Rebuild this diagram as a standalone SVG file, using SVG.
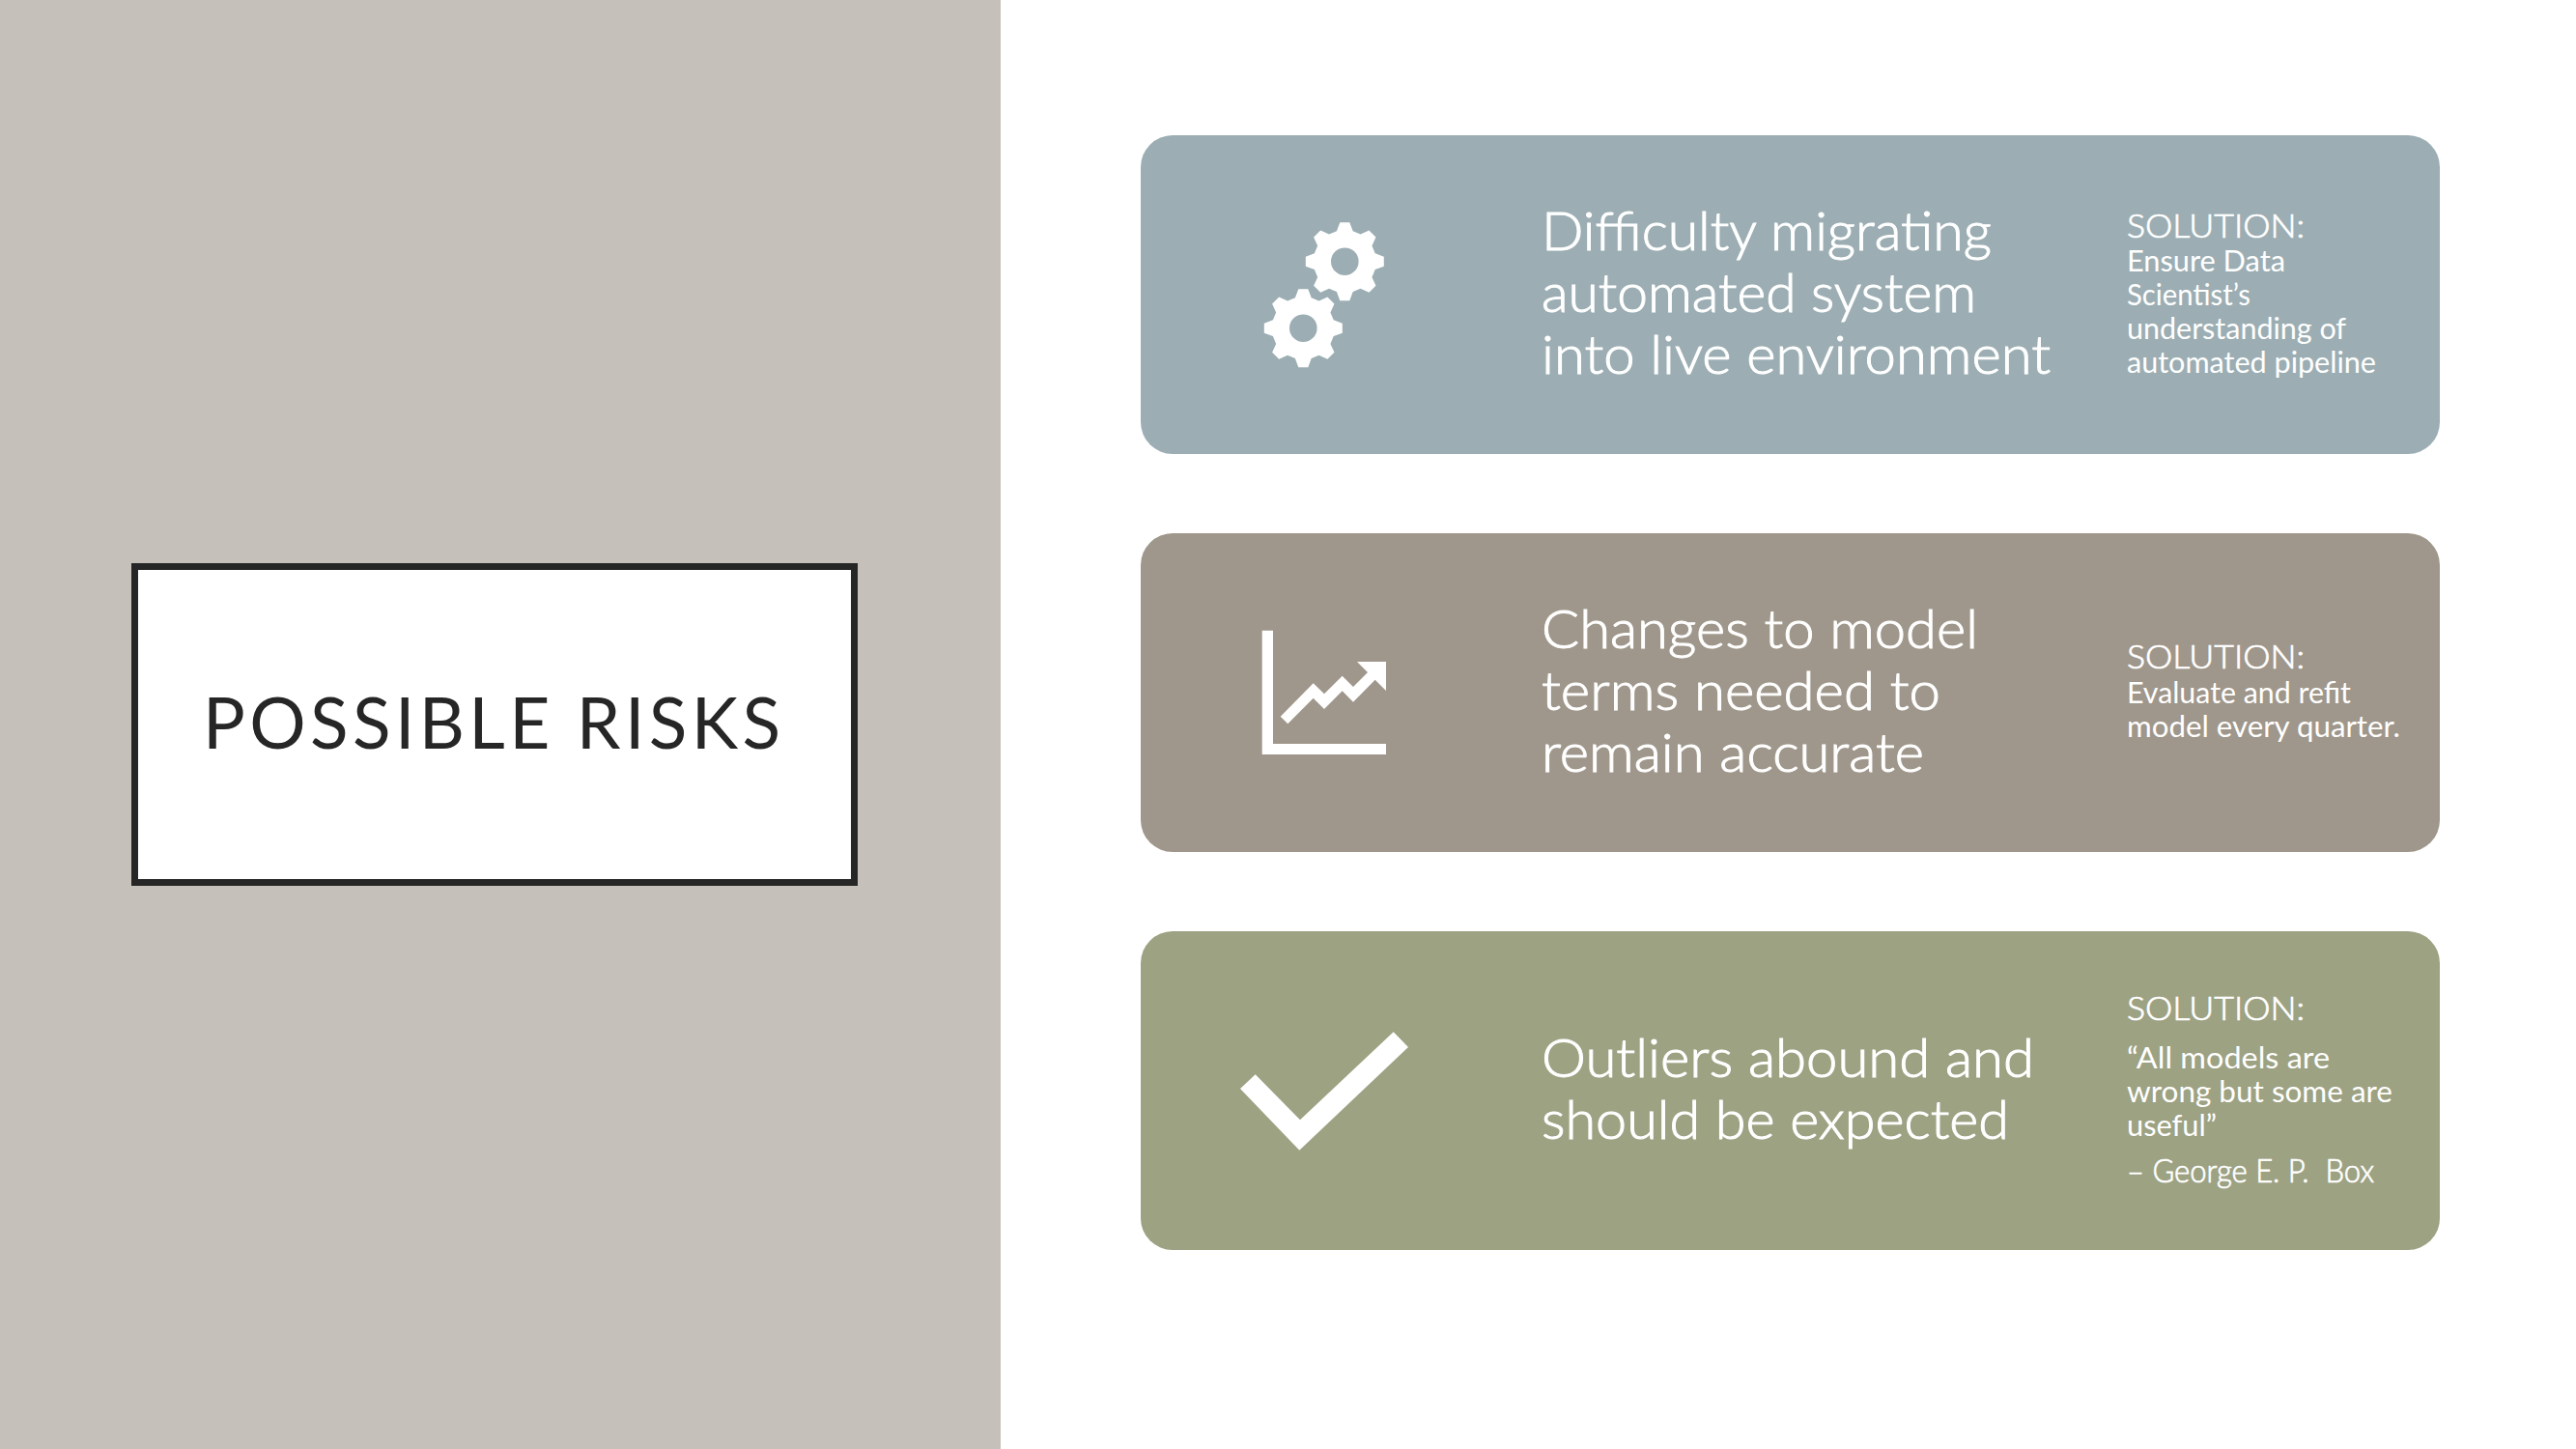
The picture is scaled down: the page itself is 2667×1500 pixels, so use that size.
<svg xmlns="http://www.w3.org/2000/svg" width="2667" height="1500" viewBox="0 0 2667 1500">
<style>
text{font-family:"Lato","Open Sans","Liberation Sans",sans-serif}
.m{font-size:56px;fill:#fff;font-weight:300;stroke:#fff;stroke-width:1px}
.s{font-size:30px;fill:#fff}
.h{font-size:33px;fill:#fff;font-weight:300;stroke:#fff;stroke-width:.7px}
.i{fill:#fff}
</style>
<defs>
<path id="gear" fill-rule="evenodd" d="M-8.4-31.4L-5-40.5L5-40.5L8.4-31.4L16.26-28.14L25.1-32.17L32.17-25.1L28.14-16.26L31.4-8.4L40.5-5L40.5 5L31.4 8.4L28.14 16.26L32.17 25.1L25.1 32.17L16.26 28.14L8.4 31.4L5 40.5L-5 40.5L-8.4 31.4L-16.26 28.14L-25.1 32.17L-32.17 25.1L-28.14 16.26L-31.4 8.4L-40.5 5L-40.5-5L-31.4-8.4L-28.14-16.26L-32.17-25.1L-25.1-32.17L-16.26-28.14ZM14.3 0A14.3 14.3 0 1 0-14.3 0A14.3 14.3 0 1 0 14.3 0Z"/>
</defs>
<rect width="2667" height="1500" fill="#fff"/>
<rect id="panel" width="1036" height="1500" fill="#C5C0BA"/>
<g id="title">
<rect x="139.5" y="586.5" width="745" height="327" fill="#fff" stroke="#262626" stroke-width="7"/>
<text x="210" y="775" font-size="73" fill="#262626" textLength="598" lengthAdjust="spacing">POSSIBLE RISKS</text>
</g>
<g id="card1">
<rect x="1181" y="140" width="1345" height="330" rx="33" fill="#9CAEB3"/>
<use href="#gear" class="i" x="1392.3" y="270.7"/>
<use href="#gear" class="i" x="1349.3" y="339.7"/>
<text class="m" x="1596" y="259" textLength="466" lengthAdjust="spacingAndGlyphs">Difficulty migrating</text>
<text class="m" x="1596" y="323" textLength="450" lengthAdjust="spacingAndGlyphs">automated system</text>
<text class="m" x="1596" y="387" textLength="527" lengthAdjust="spacingAndGlyphs">into live environment</text>
<text class="h" x="2202" y="246" textLength="184" lengthAdjust="spacingAndGlyphs">SOLUTION:</text>
<text class="s" x="2202" y="281" textLength="164" lengthAdjust="spacingAndGlyphs">Ensure Data</text>
<text class="s" x="2202" y="316" textLength="128" lengthAdjust="spacingAndGlyphs">Scientist’s</text>
<text class="s" x="2202" y="351" textLength="227" lengthAdjust="spacingAndGlyphs">understanding of</text>
<text class="s" x="2202" y="386" textLength="258" lengthAdjust="spacingAndGlyphs">automated pipeline</text>
</g>
<g id="card2">
<rect x="1181" y="552" width="1345" height="330" rx="33" fill="#9F978B"/>
<path class="i" d="M1306.7 652.7H1318V770H1435V781H1306.7Z"/>
<path class="i" d="M1325.7 741.7L1359.7 707.3L1371 718.3L1389.7 699.7L1401 711L1416 696L1405 685H1435V715L1423.7 703.7L1401 726.7L1389.7 715.3L1371 734L1359.7 722.7L1333.3 749.3Z"/>
<text class="m" x="1596" y="671" textLength="452" lengthAdjust="spacingAndGlyphs">Changes to model</text>
<text class="m" x="1596" y="735" textLength="413" lengthAdjust="spacingAndGlyphs">terms needed to</text>
<text class="m" x="1596" y="799" textLength="396" lengthAdjust="spacingAndGlyphs">remain accurate</text>
<text class="h" x="2202" y="692" textLength="184" lengthAdjust="spacingAndGlyphs">SOLUTION:</text>
<text class="s" x="2202" y="728" textLength="232" lengthAdjust="spacingAndGlyphs">Evaluate and refit</text>
<text class="s" x="2202" y="763" textLength="283" lengthAdjust="spacingAndGlyphs">model every quarter.</text>
</g>
<g id="card3">
<rect x="1181" y="964" width="1345" height="330" rx="33" fill="#9DA283"/>
<path class="i" d="M1284 1127L1299.7 1112.3L1346 1159.3L1442.7 1068.3L1458 1084L1345.3 1190.7Z"/>
<text class="m" x="1596" y="1115" textLength="510" lengthAdjust="spacingAndGlyphs">Outliers abound and</text>
<text class="m" x="1596" y="1179" textLength="484" lengthAdjust="spacingAndGlyphs">should be expected</text>
<text class="h" x="2202" y="1056" textLength="184" lengthAdjust="spacingAndGlyphs">SOLUTION:</text>
<text class="s" x="2202" y="1105.5" textLength="210" lengthAdjust="spacingAndGlyphs">“All models are</text>
<text class="s" x="2202" y="1140.5" textLength="275" lengthAdjust="spacingAndGlyphs">wrong but some are</text>
<text class="s" x="2202" y="1175.5" textLength="93" lengthAdjust="spacingAndGlyphs">useful”</text>
<text class="h" x="2202" y="1224" xml:space="preserve" style="white-space:pre" textLength="256" lengthAdjust="spacingAndGlyphs">– George E. P.  Box</text>
</g>
<g id="connectors"/>
</svg>
